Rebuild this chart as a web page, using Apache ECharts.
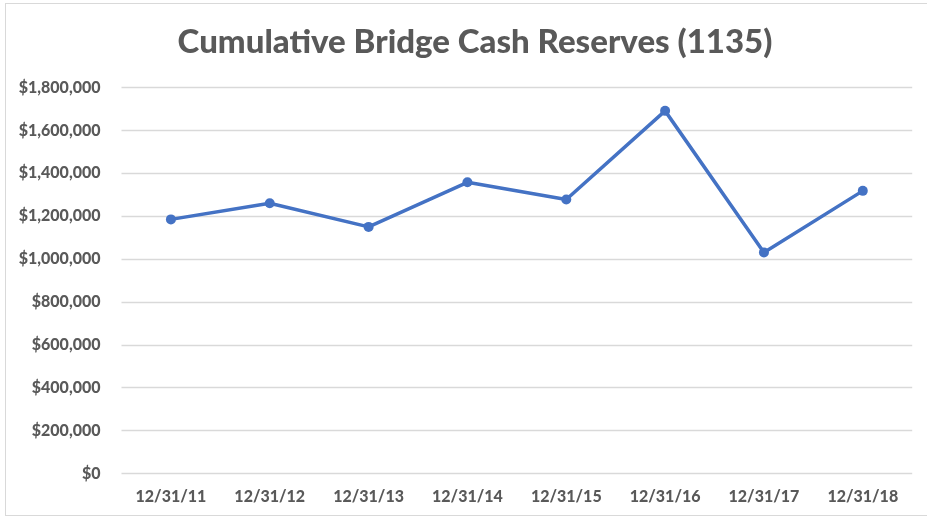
<!DOCTYPE html>
<html>
<head>
<meta charset="utf-8">
<script src="https://cdn.jsdelivr.net/npm/echarts@6/dist/echarts.min.js"></script>
<style>
  html, body { margin: 0; padding: 0; background: #fff; }
  #frame { position: absolute; left: 5px; top: 3px; width: 930px; height: 513px; border: 1.5px solid #d9d9d9; box-sizing: border-box; }
  #chart { position: absolute; left: 0; top: 0; width: 927px; height: 519px; }
</style>
</head>
<body>
<div id="frame"></div>
<div id="chart"></div>
<script>
const categories = ['12/31/11', '12/31/12', '12/31/13', '12/31/14', '12/31/15', '12/31/16', '12/31/17', '12/31/18'];
const reserves = [1185000, 1260000, 1150000, 1358000, 1278000, 1691000, 1031000, 1318000];
const yTicks = { min: 0, max: 1800000, interval: 200000 };

const fontFamily = 'Lato, "Open Sans", sans-serif';
const textColor = '#595959';

function money(v) {
    return '$' + v.toLocaleString('en-US');
}

const chart = echarts.init(document.getElementById('chart'));
chart.setOption({
    animation: false,
    title: {
        text: 'Cumulative Bridge Cash Reserves (1135)',
        left: 470,
        textAlign: 'center',
        top: 21,
        textStyle: { fontFamily, fontSize: 33, fontWeight: 900, color: textColor }
    },
    grid: { left: 121.5, right: 14.8, top: 87.5, bottom: 45.5 },
    xAxis: {
        type: 'category',
        data: categories,
        boundaryGap: true,
        axisLine: { show: false },
        axisTick: { show: false },
        axisLabel: { margin: 15, fontFamily, fontSize: 16, fontWeight: 900, color: textColor }
    },
    yAxis: {
        type: 'value',
        min: yTicks.min,
        max: yTicks.max,
        interval: yTicks.interval,
        axisLine: { show: false },
        axisTick: { show: false },
        splitLine: { lineStyle: { color: '#d9d9d9', width: 1.3 } },
        axisLabel: { margin: 21, fontFamily, fontSize: 16, fontWeight: 900, color: textColor, formatter: money }
    },
    series: [{
        type: 'line',
        data: reserves,
        symbol: 'circle',
        symbolSize: 10,
        lineStyle: { color: '#4472C4', width: 3.5 },
        itemStyle: { color: '#4472C4' }
    }]
});
</script>
</body>
</html>
